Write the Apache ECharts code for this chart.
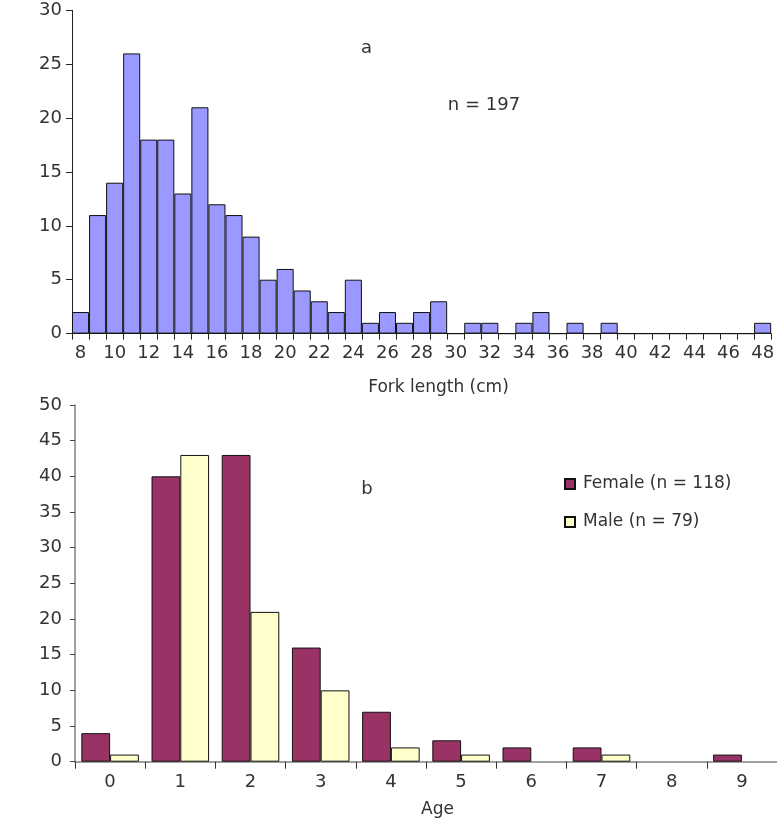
<!DOCTYPE html>
<html>
<head>
<meta charset="utf-8">
<script src="https://cdn.jsdelivr.net/npm/echarts@6/dist/echarts.min.js"></script>
<style>
  html, body { margin: 0; padding: 0; background: #fff; }
  #chart { width: 777px; height: 821px; }
</style>
</head>
<body>
<div id="chart"></div>
<script>
// panel a: fork length histogram (1 cm bins)
const lengthBins = ['8','9','10','11','12','13','14','15','16','17','18','19','20','21','22','23','24','25','26','27','28',
  '29','30','31','32','33','34','35','36','37','38','39','40','41','42','43','44','45','46','47','48']
const lengthCounts = [2, 11, 14, 26, 18, 18, 13, 21, 12, 11, 9, 5, 6, 4, 3, 2, 5, 1, 2, 1, 2,
  3, 0, 1, 1, 0, 1, 2, 0, 1, 0, 1, 0, 0, 0, 0, 0, 0, 0, 0, 1]

// panel b: age by sex
const ages = ['0', '1', '2', '3', '4', '5', '6', '7', '8', '9']
const femaleCounts = [4, 40, 43, 16, 7, 3, 2, 2, 0, 1]
const maleCounts = [1, 43, 21, 10, 2, 1, 0, 1, 0, 0]

const font = 'DejaVu Sans'
const ink = '#333'

const chart = echarts.init(document.getElementById('chart'))

// zero-height bars would otherwise draw a black border on the grey axis
const noZeroBorder = (v) => (v === 0 ? { value: 0, itemStyle: { borderWidth: 0 } } : v)

const label = (text, x, y, extra) => ({
  type: 'text', x, y,
  style: Object.assign({ text, font: `17px "${font}"`, fill: ink, align: 'center', verticalAlign: 'middle' }, extra || {}),
})
const vlabel = (text, x, y) => Object.assign(label(text, x, y), { rotation: Math.PI / 2, originX: x, originY: y })

chart.setOption({
  animation: false,
  textStyle: { fontFamily: font, color: ink },
  grid: [
    { left: 72, top: 10.3, width: 706.2, height: 323.3 },
    { left: 75, top: 405, width: 711, height: 356.7 },
  ],
  legend: {
    data: ['Female (n = 118)', 'Male (n = 79)'],
    orient: 'vertical', left: 559, top: 469,
    icon: 'rect', itemWidth: 10, itemHeight: 10, itemGap: 18,
    textStyle: { fontFamily: font, fontSize: 17, color: ink, lineHeight: 20, padding: [0, 0, 0, 3] },
  },
  xAxis: [
    {
      gridIndex: 0, type: 'category', data: lengthBins,
      axisLine: { lineStyle: { color: '#222', width: 1 } },
      axisTick: { show: true, interval: 0, length: 6, lineStyle: { color: '#222', width: 1 } },
      axisLabel: { interval: 1, margin: 11, fontSize: 18, color: ink, fontFamily: font },
    },
    {
      gridIndex: 1, type: 'category', data: ages,
      axisLine: { lineStyle: { color: '#808080', width: 1.5 } },
      axisTick: { show: true, interval: 0, length: 7, lineStyle: { color: '#333', width: 1 } },
      axisLabel: { margin: 12, fontSize: 18, color: ink, fontFamily: font },
    },
  ],
  yAxis: [
    {
      gridIndex: 0, type: 'value', min: 0, max: 30, interval: 5,
      axisLine: { show: true, lineStyle: { color: '#222' } },
      axisTick: { show: true, length: 6, lineStyle: { color: '#222' } },
      axisLabel: { margin: 10, fontSize: 18, color: ink, fontFamily: font },
      splitLine: { show: false },
    },
    {
      gridIndex: 1, type: 'value', min: 0, max: 50, interval: 5,
      axisLine: { show: true, lineStyle: { color: '#808080', width: 1.5 } },
      axisTick: { show: true, length: 5, lineStyle: { color: '#444' } },
      axisLabel: { margin: 13, fontSize: 18, color: ink, fontFamily: font },
      splitLine: { show: false },
    },
  ],
  series: [
    {
      type: 'bar', xAxisIndex: 0, yAxisIndex: 0, data: lengthCounts,
      barCategoryGap: '0%',
      itemStyle: { color: '#9999ff', borderColor: '#111', borderWidth: 1 },
    },
    {
      name: 'Female (n = 118)', type: 'bar', xAxisIndex: 1, yAxisIndex: 1,
      data: femaleCounts.map(noZeroBorder),
      barGap: '0%', barCategoryGap: '18%',
      itemStyle: { color: '#993366', borderColor: '#111', borderWidth: 1 },
    },
    {
      name: 'Male (n = 79)', type: 'bar', xAxisIndex: 1, yAxisIndex: 1,
      data: maleCounts.map(noZeroBorder),
      itemStyle: { color: '#ffffcc', borderColor: '#111', borderWidth: 1 },
    },
  ],
  graphic: [
    label('a', 366.5, 48, { font: `18px "${font}"` }),
    label('n = 197', 484, 105, { font: `18px "${font}"` }),
    label('Fork length (cm)', 438.5, 388),
    vlabel('The number of fish', 23.5, 176),
    label('b', 367, 489, { font: `18px "${font}"` }),
    vlabel('The number of fish', 20, 565),
    label('Age', 437.5, 810),
  ],
})
</script>
</body>
</html>
